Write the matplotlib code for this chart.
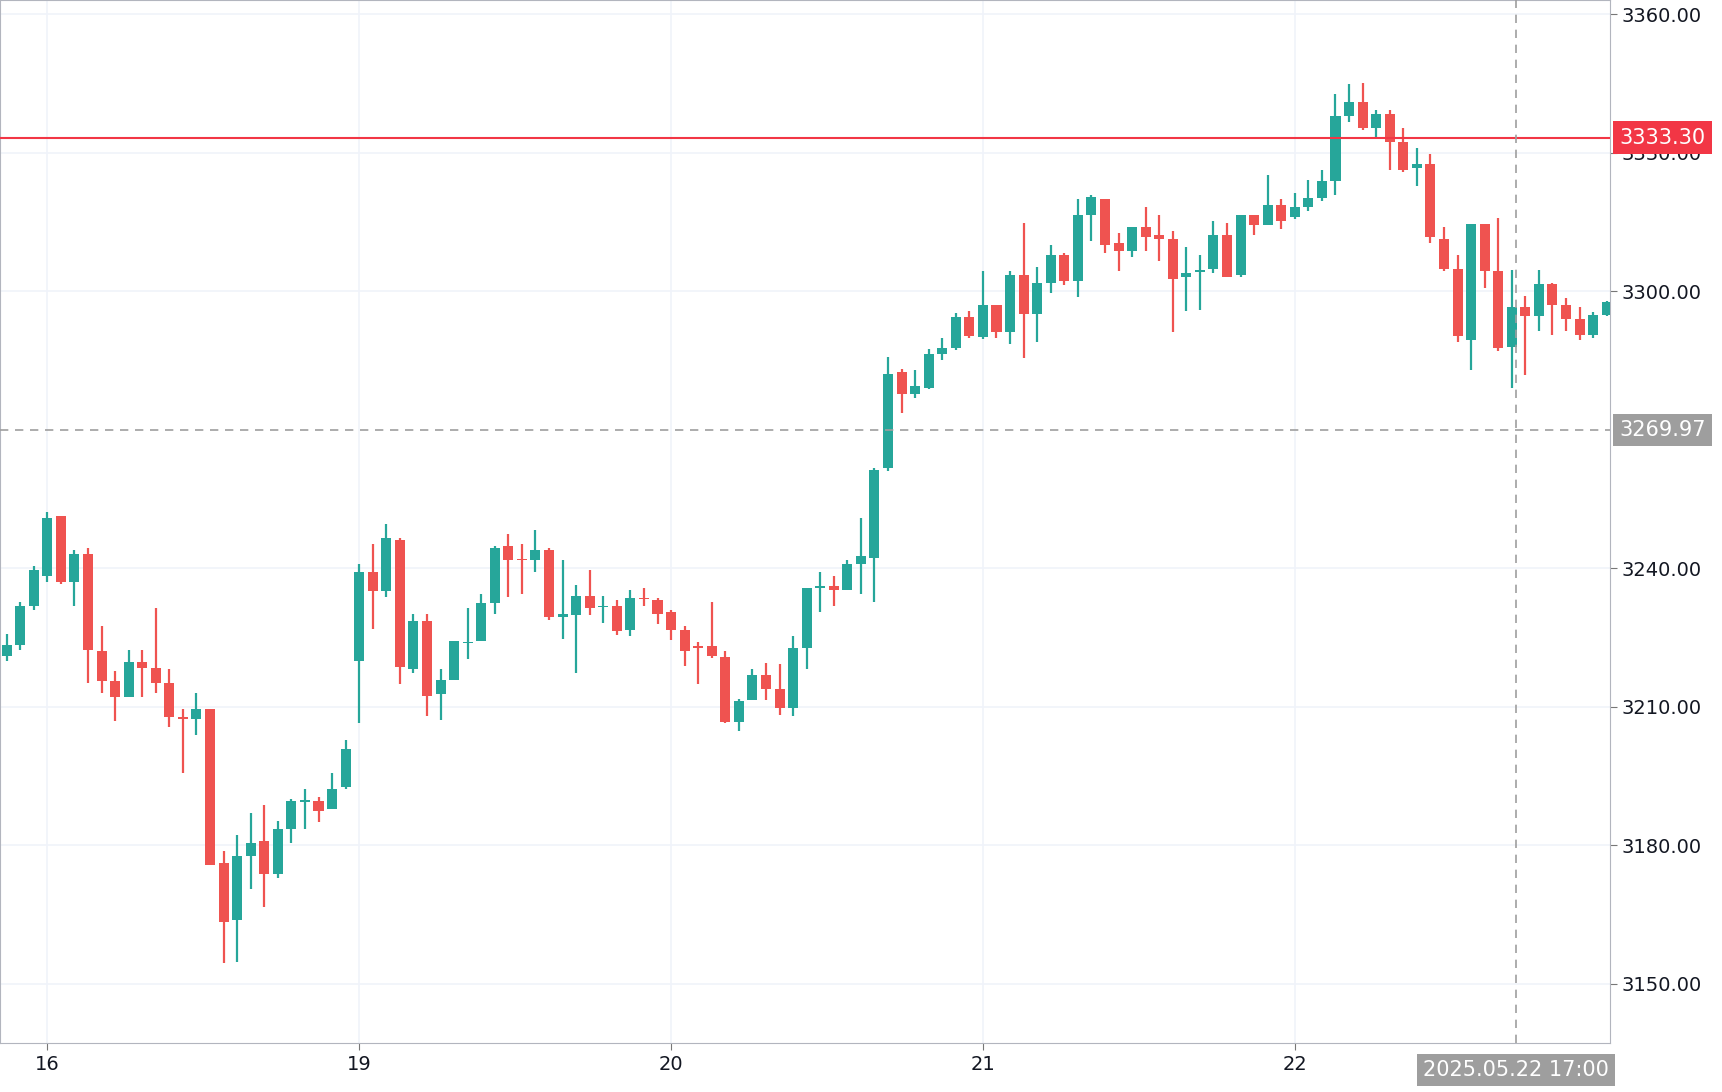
import matplotlib
matplotlib.use("Agg")
import matplotlib.pyplot as plt
from matplotlib.patches import Rectangle

opens = [3221.1,3223.3,3231.9,3238.3,3251.3,3237.1,3243.1,3222.0,3215.5,3212.1,3219.8,3218.5,3215.1,3207.7,3207.3,3209.5,3176.2,3163.8,3177.6,3181.0,3173.7,3183.6,3189.4,3189.6,3187.8,3192.6,
 3220.0,3239.3,3235.0,3246.2,3218.2,3228.5,3212.8,3215.9,3223.8,3224.2,3232.4,3244.9,3241.9,3241.9,3244.0,3229.4,3229.8,3234.1,3231.6,3231.9,3226.6,3233.6,3233.1,3230.5,3226.6,3223.0,3223.1,3220.9,3206.8,3211.4,3217.0,3213.8,3209.7,3222.7,3235.8,3236.1,3235.3,3240.9,3242.2,3261.8,3282.5,3277.7,3279.1,3286.5,
 3287.7,3294.5,3290.2,3297.1,3291.1,3303.6,3295.0,3301.9,3307.9,3302.3,3316.5,3320.0,3310.5,3308.8,3313.9,3312.2,3311.3,3303.2,3304.2,3304.9,3312.2,3303.6,3316.5,3314.3,3318.6,3316.0,3318.2,3320.3,3323.8,3337.9,3341.0,3335.4,3338.4,3332.4,3326.8,3327.6,3311.3,3304.9,3289.4,3314.6,3304.4,3287.9,3296.7,3294.6,3301.5,3297.0,3294.1,3290.6,3294.8]
closes = [3223.3,3231.9,3239.6,3250.8,3237.1,3243.1,3222.4,3215.5,3212.1,3219.8,3218.5,3215.1,3207.7,3207.4,3209.5,3175.8,3163.3,3177.6,3180.6,3173.7,3183.6,3189.6,3189.6,3187.5,3192.3,3200.9,
 3239.3,3235.0,3246.6,3218.6,3228.5,3212.3,3215.9,3224.2,3224.0,3232.4,3244.5,3241.9,3241.7,3244.0,3229.4,3230.2,3234.1,3231.5,3231.8,3226.4,3233.6,3233.3,3230.1,3226.6,3222.2,3222.8,3221.0,3206.8,3211.2,3216.8,3213.8,3209.7,3222.7,3235.7,3236.0,3235.3,3240.9,3242.7,3261.4,3282.2,3277.7,3279.4,3286.5,3287.7,
 3294.5,3290.3,3297.1,3291.1,3303.6,3295.0,3301.9,3307.9,3302.3,3316.5,3320.4,3310.0,3308.8,3313.9,3311.8,3311.3,3302.7,3304.0,3304.4,3312.2,3303.2,3316.5,3314.3,3318.6,3315.2,3318.2,3320.3,3323.8,3337.9,3341.0,3335.4,3338.4,3332.4,3326.3,3327.6,3311.7,3304.9,3290.3,3314.6,3304.4,3287.7,3296.7,3294.6,3301.5,3297.0,3293.9,3290.6,3294.8,3297.7]
highs = [3225.8,3232.7,3240.5,3252.1,3251.3,3244.0,3244.4,3227.6,3217.7,3222.4,3222.4,3231.5,3218.1,3209.5,3212.9,3209.5,3178.8,3182.3,3187.0,3188.8,3185.3,3190.0,3192.2,3190.5,3195.6,3202.8,
 3241.0,3245.3,3249.6,3246.6,3230.2,3230.2,3218.2,3224.2,3231.5,3234.5,3244.9,3247.5,3245.3,3248.3,3244.5,3241.9,3236.3,3239.7,3234.1,3233.2,3235.3,3235.7,3233.6,3230.9,3227.5,3224.0,3232.7,3222.0,3211.6,3218.3,3219.6,3219.2,3225.3,3235.7,3239.2,3238.3,3241.8,3250.9,3261.8,3285.7,3283.2,3282.9,3287.5,3289.8,
 3295.4,3295.8,3304.4,3297.1,3304.4,3314.8,3305.3,3310.0,3308.3,3319.9,3320.8,3320.0,3312.6,3313.9,3318.2,3316.5,3313.1,3309.6,3307.9,3315.2,3314.8,3316.5,3316.5,3325.1,3319.9,3321.2,3324.2,3326.3,3342.7,3344.8,3345.2,3339.2,3339.2,3335.4,3331.1,3329.8,3313.9,3307.9,3314.6,3314.6,3315.8,3304.6,3298.9,3304.6,3301.7,3298.6,3296.5,3295.6,3297.9]
lows = [3219.9,3222.4,3231.0,3237.0,3236.6,3231.9,3215.1,3212.9,3206.9,3212.1,3212.1,3212.9,3205.6,3195.7,3203.9,3195.4,3154.5,3154.8,3170.5,3166.7,3173.0,3180.6,3183.6,3185.0,3187.8,3192.3,
 3206.6,3226.8,3233.7,3214.9,3217.3,3208.0,3207.1,3215.9,3220.3,3224.2,3230.2,3233.7,3234.5,3239.3,3228.9,3224.6,3217.3,3229.8,3228.1,3225.5,3225.3,3231.8,3227.9,3224.4,3218.8,3215.0,3220.5,3206.6,3204.7,3211.4,3211.4,3208.3,3208.0,3218.3,3230.5,3231.8,3235.3,3234.4,3232.7,3261.0,3273.7,3277.0,3278.9,3285.1,
 3287.2,3289.8,3289.6,3289.8,3288.5,3285.6,3289.0,3299.7,3301.4,3298.8,3310.9,3308.3,3304.4,3307.5,3308.8,3306.6,3291.1,3295.8,3295.9,3304.0,3303.2,3303.2,3312.2,3314.3,3313.5,3315.6,3317.3,3319.5,3320.8,3336.7,3334.9,3333.2,3326.3,3325.9,3322.9,3310.5,3304.4,3289.0,3283.0,3300.8,3287.0,3279.1,3281.8,3291.3,3290.5,3291.3,3289.4,3289.8,3294.6]

day_tick_idx = [3, 26, 49, 72, 95]
day_tick_labels = ["16", "19", "20", "21", "22"]
price_ticks = [3150, 3180, 3210, 3240, 3300, 3330, 3360]
last_price = 3333.30
cross_price = 3269.97
cross_idx = 111.3
cross_label = "2025.05.22 17:00"

UP, DOWN = "#26a69a", "#ef5350"
fig = plt.figure(figsize=(17.22, 10.92), dpi=100)
ax = fig.add_axes([0.0, 0.0449, 0.935, 0.9551])
w = 0.74
for i, (o, c, h, l) in enumerate(zip(opens, closes, highs, lows)):
    col = UP if c >= o else DOWN
    ax.plot([i, i], [l, h], color=col, lw=1.6, solid_capstyle="butt", zorder=3)
    b = min(o, c); hgt = max(abs(c - o), 0.35)
    ax.add_patch(Rectangle((i - w / 2, b), w, hgt, color=col, lw=0, zorder=4))

ax.set_xlim(-0.49, 118.25)
ax.set_ylim(3137.2, 3363.1)
ax.set_yticks(price_ticks)
ax.yaxis.tick_right()
ax.set_yticklabels([f"{p:.2f}" for p in price_ticks], fontsize=14, color="#131722")
ax.set_xticks(day_tick_idx)
ax.set_xticklabels(day_tick_labels, fontsize=14, color="#131722")
ax.tick_params(axis="both", length=5, color="#777777")
ax.grid(True, color="#f0f3fa", lw=1.2, zorder=0)
for s in ax.spines.values():
    s.set_color("#b2b5be")

ax.axhline(last_price, color="#f23645", lw=1.5, zorder=5)
ax.axhline(cross_price, color="#9e9e9e", lw=1.2, ls=(0, (5, 4)), zorder=5)
ax.axvline(cross_idx, color="#9e9e9e", lw=1.2, ls=(0, (5, 4)), zorder=5)
ax.text(1.006, last_price, f"{last_price:.2f}", transform=ax.get_yaxis_transform(),
        fontsize=15, color="white", va="center", ha="left", clip_on=False, zorder=10,
        bbox=dict(boxstyle="square,pad=0.3", fc="#f23645", ec="none"))
ax.text(1.006, cross_price, f"{cross_price:.2f}", transform=ax.get_yaxis_transform(),
        fontsize=15, color="white", va="center", ha="left", clip_on=False, zorder=10,
        bbox=dict(boxstyle="square,pad=0.3", fc="#9e9e9e", ec="none"))
ax.text(cross_idx, -0.026, cross_label, transform=ax.get_xaxis_transform(),
        fontsize=15, color="white", va="center", ha="center", clip_on=False, zorder=10,
        bbox=dict(boxstyle="square,pad=0.3", fc="#9e9e9e", ec="none"))
fig.savefig("out.png", dpi=100)
